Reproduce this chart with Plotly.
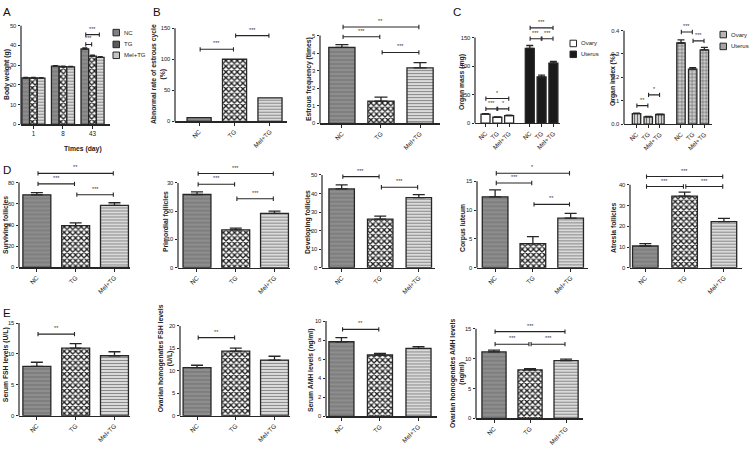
import plotly.graph_objects as go

W, H = 750, 453
FONT = "Liberation Sans, Arial, sans-serif"
LINE = "#262626"
groups = ["NC", "TG", "Mel+TG"]

# ---------------- data ----------------
# A: body weight (g) by day
days = ["1", "8", "43"]
bw_nc = [23.5, 29.5, 38.2]
bw_tg = [23.5, 29.2, 34.6]
bw_mel = [23.4, 29.1, 33.9]
bw_nc_err = [0.3, 0.3, 0.5]
bw_tg_err = [0.3, 0.3, 0.5]
bw_mel_err = [0.3, 0.3, 0.4]
bw_sig = [(2, 0, 1, 40.5, "***"), (2, 0, 2, 45.5, "***")]

# B
abn_rate = [6, 100, 38]
abn_sig = [(0, 1, 116, "***"), (1, 2, 138, "***")]
estrous_freq = [4.33, 1.27, 3.16]
estrous_err = [0.15, 0.22, 0.3]
estrous_sig = [(0, 2, 5.49, "**"), (0, 1, 4.93, "***"), (1, 2, 4.04, "***")]

# C
organs = ["Ovary", "Uterus"]
mass_ovary = [15.6, 10.2, 13.0]
mass_ovary_err = [1.0, 0.6, 0.8]
mass_uterus = [131, 81, 105]
mass_uterus_err = [5, 3, 3]
mass_sig_ovary = [(0, 2, 43, "*"), (0, 1, 25, "***"), (1, 2, 25, "*")]
mass_sig_uterus = [(0, 2, 167, "***"), (0, 1, 148, "***"), (1, 2, 148, "***")]
index_ovary = [0.045, 0.031, 0.041]
index_ovary_err = [0.002, 0.002, 0.002]
index_uterus = [0.347, 0.235, 0.318]
index_uterus_err = [0.013, 0.007, 0.010]
index_sig_ovary = [(0, 1, 0.079, "**"), (1, 2, 0.125, "*")]
index_sig_uterus = [(0, 1, 0.394, "***"), (1, 2, 0.356, "***")]

# D
surviving = [68.5, 39.5, 58.5]
surviving_err = [2.0, 2.5, 2.5]
surviving_sig = [(0, 2, 88.7, "**"), (0, 1, 78.8, "***"), (1, 2, 68.6, "***")]
primordial = [25.9, 13.4, 19.2]
primordial_err = [0.9, 0.6, 0.8]
primordial_sig = [(0, 2, 33.3, "***"), (0, 1, 29.5, "***"), (1, 2, 24.4, "***")]
developing = [42.5, 26.2, 37.8]
developing_err = [2.2, 1.6, 1.6]
developing_sig = [(0, 1, 49.1, "***"), (1, 2, 43.4, "***")]
corpus = [12.3, 4.2, 8.6]
corpus_err = [1.2, 1.2, 0.85]
corpus_sig = [(0, 2, 16.4, "*"), (0, 1, 14.7, "***"), (1, 2, 11.0, "**")]
atresia = [10.5, 34.6, 22.3]
atresia_err = [1.1, 1.9, 1.5]
atresia_sig = [(0, 2, 44.0, "***"), (0, 1, 39.2, "***"), (1, 2, 39.2, "***")]

# E
serum_fsh = [8.0, 10.95, 9.7]
serum_fsh_err = [0.65, 0.7, 0.65]
serum_fsh_sig = [(0, 1, 13.2, "**")]
ovary_fsh = [10.7, 14.4, 12.4]
ovary_fsh_err = [0.55, 0.65, 0.85]
ovary_fsh_sig = [(0, 1, 17.4, "**")]
serum_amh = [7.83, 6.44, 7.14]
serum_amh_err = [0.44, 0.18, 0.17]
serum_amh_sig = [(0, 1, 9.13, "**")]
ovary_amh = [11.1, 8.1, 9.65]
ovary_amh_err = [0.3, 0.2, 0.25]
ovary_amh_sig = [(0, 2, 14.5, "***"), (0, 1, 12.4, "***"), (1, 2, 12.4, "***")]

# ---------------- styles ----------------
STY = {
    "NC": dict(bg="#8e8e8e", fg="#747474", shape="-", size=4, sol=0.3),
    "TG": dict(bg="#ffffff", fg="#1e1e1e", shape="x", size=4, sol=0.55),
    "Mel+TG": dict(bg="#dadada", fg="#8a8a8a", shape="-", size=3, sol=0.35),
    "Ovary": dict(bg="#ffffff", fg="#ffffff", shape="", size=3, sol=0.3),
    "Uterus": dict(bg="#1a1a1a", fg="#1a1a1a", shape="", size=3, sol=0.3),
    "Ovary2": dict(bg="#d0d0d0", fg="#6a6a6a", shape="|", size=3, sol=0.35),
    "Uterus2": dict(bg="#cccccc", fg="#5e5e5e", shape="+", size=3.5, sol=0.3),
}
SWATCH = {"NC": "#808080", "TG": "#5a5a5a", "Mel+TG": "#c4c4c4",
          "Ovary": "#ffffff", "Uterus": "#1a1a1a", "Ovary2": "#b5b5b5", "Uterus2": "#a5a5a5"}


def marker_for(k):
    s = STY[k]
    m = dict(color=s["bg"], line=dict(color=LINE, width=1.3))
    if s["shape"]:
        m["pattern"] = dict(shape=s["shape"], fgcolor=s["fg"], bgcolor=s["bg"],
                            size=s["size"], solidity=s["sol"], fillmode="replace")
    return m


fig = go.Figure()
layout = {}
shapes = []
annos = []


def names(n):
    s = "" if n == 1 else str(n)
    return "x" + s, "y" + s, "xaxis" + s, "yaxis" + s


def setup(n, x0, x1, ytop, ybot, ymax, dtick, xr, sig_top, tickvals, ticktext,
          ytitle, tx, ty, tickangle=-45, yfmt=None):
    xn, yn, xk, yk = names(n)
    scale = (ybot - ytop) / ymax
    rmax = max(ymax, sig_top + 9 / scale)
    dtop = ybot - rmax * scale
    nt = int(round(ymax / dtick))
    yticks = [round(i * dtick, 6) for i in range(nt + 1)]
    layout[xk] = dict(domain=[x0 / W, x1 / W], range=xr, anchor=yn,
                      showline=True, linecolor=LINE, linewidth=1.2,
                      ticks="outside", ticklen=3, tickwidth=1, tickcolor=LINE,
                      tickvals=tickvals, ticktext=ticktext, tickangle=tickangle,
                      tickfont=dict(size=6.3, color="#222"), showgrid=False,
                      zeroline=False)
    layout[yk] = dict(domain=[1 - ybot / H, 1 - dtop / H], range=[0, rmax], anchor=xn,
                      showline=False, ticks="outside", ticklen=2.5, tickwidth=1,
                      tickcolor=LINE, tickvals=yticks, tickformat=yfmt,
                      tickfont=dict(size=5.8, color="#222"), showgrid=False,
                      zeroline=False)
    shapes.append(dict(type="line", xref="paper", yref="paper",
                       x0=x0 / W, x1=x0 / W, y0=1 - ybot / H, y1=1 - ytop / H,
                       line=dict(color=LINE, width=1.2)))
    annos.append(dict(xref="paper", yref="paper", x=tx / W, y=1 - ty / H,
                      text=ytitle, textangle=-90, showarrow=False,
                      xanchor="center", yanchor="middle",
                      font=dict(size=6.8, weight="bold", color="#222")))
    return xn, yn, scale


def add_sig(xn, yn, scale, xa, xb, y, label):
    d = 2.2 / scale
    xa, xb = xa + 0.03, xb - 0.03
    shapes.append(dict(type="path", xref=xn, yref=yn,
                       path=f"M{xa},{y-d} L{xa},{y+d} M{xa},{y} L{xb},{y} M{xb},{y-d} L{xb},{y+d}",
                       line=dict(color=LINE, width=1.1)))
    annos.append(dict(xref=xn, yref=yn, x=(xa + xb) / 2, y=y, yshift=1,
                      text=label, showarrow=False, yanchor="bottom",
                      font=dict(size=5.5, color="#333")))


def add_bar(xn, yn, xs, vals, key, width, errs=None, capw=6, offset=None):
    tr = go.Bar(x=xs, y=vals, width=width, marker=marker_for(key),
                xaxis=xn, yaxis=yn, showlegend=False, hoverinfo="skip")
    if offset is not None:
        tr.offset = offset
    if errs is not None:
        tr.error_y = dict(type="data", array=errs, arrayminus=[0] * len(errs),
                          symmetric=False, color=LINE, thickness=1.3, width=capw)
    fig.add_trace(tr)


def std_panel(n, box, vals, errs, sig, width, ytitle, tpos, capw=6, yfmt=None):
    x0, x1, ytop, ybot, ymax, dtick, xr = box
    sig_top = max([s[2] for s in sig]) if sig else 0
    xs = list(range(len(groups)))
    xn, yn, sc = setup(n, x0, x1, ytop, ybot, ymax, dtick, xr, sig_top, xs, groups,
                       ytitle, tpos[0], tpos[1], yfmt=yfmt)
    for i, g in enumerate(groups):
        add_bar(xn, yn, [xs[i]], [vals[i]], g, width,
                None if errs is None else [errs[i]], capw)
    for a, b, y, lab in sig:
        add_sig(xn, yn, sc, xs[a], xs[b], y, lab)


# ---- A ----
xs_days = list(range(len(days)))
xn, yn, sc = setup(1, 21, 110, 23, 123, 50, 10, [-0.42, 2.59], 45.5, xs_days, days,
                   "Body weight (g)", 7, 73, tickangle=0)
bwid = 0.26
series_A = [(bw_nc, bw_nc_err, "NC"), (bw_tg, bw_tg_err, "TG"), (bw_mel, bw_mel_err, "Mel+TG")]
for k, (vals, errs, g) in enumerate(series_A):
    add_bar(xn, yn, xs_days, vals, g, bwid, errs, 2.5, offset=-1.5 * bwid + k * bwid)
for d, a, b, y, lab in bw_sig:
    add_sig(xn, yn, sc, d + (a - 1) * bwid, d + (b - 1) * bwid, y, lab)
annos.append(dict(xref="paper", yref="paper", x=62 / W, y=1 - 142 / H, text="Times (day)",
                  showarrow=False, font=dict(size=6.8, weight="bold", color="#222")))

# ---- B ----
std_panel(2, (175, 287, 25.5, 120, 150, 50, [-0.68, 2.48]), abn_rate, None, abn_sig, 0.68,
          "Abnormal rate of estrous cycle<br>(%)", (158, 72))
std_panel(3, (320, 440, 33, 122, 5, 1, [-0.56, 2.51]), estrous_freq, estrous_err, estrous_sig, 0.67,
          "Estrous frequency (times)", (309, 77), capw=6.5)


# ---- C ----
def organ_panel(n, box, gap, ov, ov_err, ut, ut_err, sig_ov, sig_ut, width, keys, ytitle, tpos, yfmt=None):
    x0, x1, ytop, ybot, ymax, dtick, xr = box
    xs_o = [0, 1, 2]
    xs_u = [gap + i for i in range(3)]
    sig_top = max(s[2] for s in sig_ov + sig_ut)
    xn, yn, sc = setup(n, x0, x1, ytop, ybot, ymax, dtick, xr, sig_top, xs_o + xs_u,
                       groups + groups, ytitle, tpos[0], tpos[1], yfmt=yfmt)
    add_bar(xn, yn, xs_o, ov, keys[0], width, ov_err, 3.5)
    add_bar(xn, yn, xs_u, ut, keys[1], width, ut_err, 3.5)
    for a, b, y, lab in sig_ov:
        add_sig(xn, yn, sc, xs_o[a], xs_o[b], y, lab)
    for a, b, y, lab in sig_ut:
        add_sig(xn, yn, sc, xs_u[a], xs_u[b], y, lab)


organ_panel(4, (475, 560, 35, 121.7, 150, 50, [-0.89, 6.31]), 3.75,
            mass_ovary, mass_ovary_err, mass_uterus, mass_uterus_err,
            mass_sig_ovary, mass_sig_uterus, 0.76, ["Ovary", "Uterus"],
            "Organ mass (mg)", (462, 80))
organ_panel(5, (624, 712, 28, 122.7, 0.4, 0.1, [-1.07, 6.45]), 3.8,
            index_ovary, index_ovary_err, index_uterus, index_uterus_err,
            index_sig_ovary, index_sig_uterus, 0.72, ["Ovary2", "Uterus2"],
            "Organ index (%)", (613, 78), yfmt=".1f")

# ---- D ----
std_panel(6, (19, 130, 182, 268, 80, 20, [-0.46, 2.4]), surviving, surviving_err, surviving_sig, 0.72,
          "Surviving follicles", (6, 225))
std_panel(7, (178, 290, 182.3, 268.3, 30, 10, [-0.49, 2.4]), primordial, primordial_err, primordial_sig, 0.72,
          "Primordial follicles", (165, 222))
std_panel(8, (322, 435, 174.3, 268.3, 50, 10, [-0.51, 2.42]), developing, developing_err, developing_sig, 0.66,
          "Developing follicles", (308, 222))
std_panel(9, (477, 588, 180.7, 268.3, 15, 5, [-0.48, 2.46]), corpus, corpus_err, corpus_sig, 0.68,
          "Corpus luteum", (463, 228))
std_panel(10, (630, 742, 184.3, 268.3, 40, 10, [-0.39, 2.46]), atresia, atresia_err, atresia_sig, 0.65,
          "Atresia follicles", (614, 228))

# ---- E ----
std_panel(11, (19, 130, 324.3, 418.3, 15, 5, [-0.46, 2.4]), serum_fsh, serum_fsh_err, serum_fsh_sig, 0.72,
          "Serum FSH levels (U/L)", (6, 367))
std_panel(12, (180, 290, 327.3, 418.3, 20, 5, [-0.44, 2.4]), ovary_fsh, ovary_fsh_err, ovary_fsh_sig, 0.72,
          "Ovarian homogenates FSH levels<br>(U/L)", (165, 360))
std_panel(13, (326, 437, 322.3, 419, 10, 2, [-0.4, 2.48]), serum_amh, serum_amh_err, serum_amh_sig, 0.65,
          "Serum AMH levels (ng/ml)", (311, 372))
std_panel(14, (476, 583, 330, 421, 15, 5, [-0.5, 2.47]), ovary_amh, ovary_amh_err, ovary_amh_sig, 0.67,
          "Ovarian homogenates AMH levels<br>(ng/ml)", (457, 375))


# ---- legends (manual) ----
def legend(items, keys, x, ys):
    for lab, k, y in zip(items, keys, ys):
        shapes.append(dict(type="rect", xref="paper", yref="paper",
                           x0=x / W, x1=(x + 6.5) / W, y0=1 - (y + 3.3) / H, y1=1 - (y - 3.3) / H,
                           fillcolor=SWATCH[k], line=dict(color=LINE, width=1)))
        annos.append(dict(xref="paper", yref="paper", x=(x + 9) / W, y=1 - y / H, text=lab,
                          showarrow=False, xanchor="left", yanchor="middle",
                          font=dict(size=6, color="#222")))


legend(groups, groups, 113, [30, 42, 53])
legend(organs, ["Ovary", "Uterus"], 570, [41, 52])
legend(organs, ["Ovary2", "Uterus2"], 720, [32, 44])

# ---- panel letters (top-left anchored) ----
for lab, px, py in [("A", 0.5, 1), ("B", 150.5, 1), ("C", 450.5, 1), ("D", 0.5, 161), ("E", 0.5, 306)]:
    annos.append(dict(xref="paper", yref="paper", x=px / W, y=1 - py / H, text=lab,
                      xanchor="left", yanchor="top",
                      showarrow=False, font=dict(size=11.5, color="#111")))

fig.update_layout(
    width=W, height=H, margin=dict(l=0, r=0, t=0, b=0),
    paper_bgcolor="white", plot_bgcolor="white",
    font=dict(family=FONT, color="#222"),
    barmode="overlay", showlegend=False, hovermode=False,
    shapes=shapes, annotations=annos,
    **layout,
)
fig.write_html("out.html", config={"displayModeBar": False, "staticPlot": True},
               post_script="document.body.style.margin='0';document.body.style.overflow='hidden';")
